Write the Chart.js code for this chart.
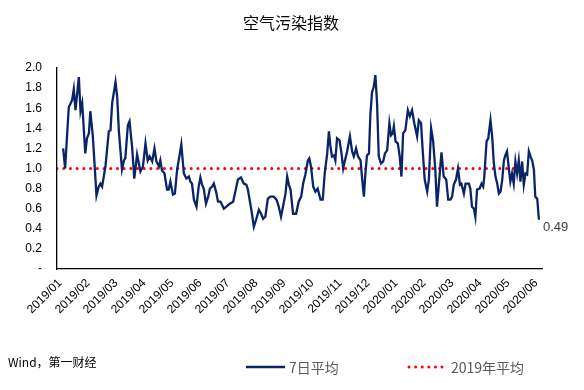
<!DOCTYPE html>
<html>
<head>
<meta charset="utf-8">
<script src="https://cdn.jsdelivr.net/npm/chart.js@4.4.1/dist/chart.umd.min.js"></script>
<style>
  html, body { margin: 0; padding: 0; background: #fff; }
</style>
</head>
<body>
<canvas id="chart" width="584" height="390"></canvas>
<script>
const title = '空气污染指数';
const source = 'Wind，第一财经';
const tickLabels = ['2019/01', '2019/02', '2019/03', '2019/04', '2019/05', '2019/06', '2019/07', '2019/08', '2019/09',
  '2019/10', '2019/11', '2019/12', '2020/01', '2020/02', '2020/03', '2020/04', '2020/05', '2020/06'];
const seriesNames = ['7日平均', '2019年平均'];

// x position in months since 2019/01
const months = [
  0.11, 0.18, 0.31, 0.43, 0.49, 0.55, 0.67, 0.73, 0.79, 0.90, 0.96, 1.03, 1.08, 1.17, 1.30, 1.38, 1.44, 1.50, 1.62, 1.74,
  1.80, 1.86, 1.98, 2.04, 2.10, 2.21, 2.28, 2.33, 2.42, 2.48, 2.57, 2.65, 2.75,
  2.87, 2.96, 3.05, 3.13, 3.20, 3.29, 3.37, 3.44, 3.53, 3.58, 3.64, 3.73, 3.82, 3.88, 3.94, 4.03, 4.10, 4.18, 4.26, 4.33,
  4.42, 4.51, 4.60, 4.65, 4.71, 4.78, 4.87, 4.95, 5.01, 5.07, 5.13, 5.21, 5.29, 5.35, 5.43, 5.49, 5.57, 5.64,
  5.73, 5.85, 5.94, 6.06, 6.18, 6.26, 6.35, 6.46, 6.56, 6.65, 6.70, 6.75, 6.83, 6.92, 7.00, 7.10, 7.18, 7.25, 7.33, 7.42,
  7.51, 7.63, 7.73, 7.81, 7.89, 7.96, 8.05, 8.11, 8.17, 8.23, 8.32, 8.43,
  8.52, 8.61, 8.68, 8.76, 8.85, 8.90, 8.96, 9.04, 9.12, 9.20, 9.30, 9.38, 9.45, 9.54, 9.60, 9.65, 9.71, 9.78, 9.83, 9.89,
  9.98, 10.05, 10.11, 10.19, 10.25, 10.35, 10.43, 10.49, 10.57, 10.64, 10.73, 10.79, 10.85, 10.90, 10.96, 11.03, 11.08,
  11.14, 11.20, 11.26, 11.32, 11.38,
  11.46, 11.54, 11.60, 11.68, 11.76, 11.82, 11.88, 11.92, 11.98, 12.06, 12.13, 12.19, 12.25, 12.33, 12.42, 12.49, 12.57,
  12.65, 12.75, 12.81, 12.89, 12.95, 13.02, 13.11, 13.17, 13.25, 13.32, 13.40, 13.46, 13.55, 13.62, 13.70, 13.79, 13.86,
  13.94, 14.00, 14.06, 14.14, 14.21,
  14.28, 14.33, 14.42, 14.48, 14.60, 14.65, 14.71, 14.78, 14.83, 14.89, 14.98, 15.05, 15.11, 15.15, 15.23, 15.29, 15.37,
  15.43, 15.49, 15.55, 15.61, 15.67, 15.73, 15.79, 15.85, 15.90, 15.96, 16.03, 16.08, 16.14, 16.20, 16.26, 16.32, 16.38,
  16.44, 16.50, 16.56, 16.62, 16.68, 16.74, 16.80, 16.86, 16.92, 16.97, 17.04, 17.10
];
const values = [
  1.20, 1.00, 1.61, 1.68, 1.79, 1.58, 1.91, 1.57, 1.65, 1.15, 1.30, 1.35, 1.57, 1.32, 0.73, 0.82, 0.85, 0.82, 1.02, 1.37,
  1.38, 1.65, 1.86, 1.71, 1.37, 0.99, 1.08, 1.10, 1.43, 1.47, 1.22, 0.90, 1.14,
  0.97, 1.02, 1.25, 1.08, 1.12, 1.07, 1.20, 1.07, 1.02, 1.08, 0.98, 0.95, 0.79, 0.79, 0.87, 0.74, 0.75, 0.99, 1.12, 1.24,
  0.95, 0.90, 0.92, 0.87, 0.85, 0.69, 0.62, 0.82, 0.91, 0.84, 0.80, 0.65, 0.72, 0.80, 0.82, 0.85, 0.77, 0.67,
  0.67, 0.60, 0.62, 0.65, 0.67, 0.77, 0.89, 0.91, 0.85, 0.84, 0.80, 0.72, 0.59, 0.42, 0.49, 0.59, 0.55, 0.50, 0.52, 0.70,
  0.72, 0.72, 0.69, 0.62, 0.52, 0.62, 0.75, 0.92, 0.84, 0.79, 0.55, 0.55,
  0.67, 0.72, 0.85, 0.94, 1.08, 1.10, 1.02, 0.82, 0.77, 0.80, 0.69, 0.69, 0.95, 1.15, 1.37, 1.23, 1.12, 1.13, 1.08, 1.30,
  1.28, 1.15, 1.00, 1.10, 1.17, 1.32, 1.17, 1.12, 1.20, 1.12, 1.08, 0.89, 0.72, 0.94, 1.13, 1.15, 1.53,
  1.76, 1.81, 1.93, 1.65, 1.12,
  1.05, 1.07, 1.15, 1.18, 1.45, 1.33, 1.35, 1.42, 1.27, 1.25, 1.12, 0.92, 1.35, 1.38, 1.58, 1.52, 1.58,
  1.45, 1.32, 1.48, 1.45, 1.18, 0.89, 0.77, 0.89, 1.40, 1.28, 0.99, 0.62, 0.92, 1.16, 0.92, 0.89, 0.69,
  0.69, 0.72, 0.84, 0.89, 1.00,
  0.84, 0.85, 0.75, 0.85, 0.85, 0.80, 0.62, 0.60, 0.52, 0.79, 0.80, 0.85, 0.82, 0.92, 1.27, 1.30, 1.48,
  1.32, 1.05, 0.92, 0.85, 0.75, 0.77, 0.89, 1.08, 1.13, 1.17, 0.99, 0.87, 0.95, 0.85, 1.07, 0.95, 1.08,
  0.87, 1.07, 0.84, 0.95, 0.94, 1.17, 1.12, 1.08, 0.99, 0.72, 0.70, 0.49
];
const avg2019 = 1.0;
const avgRange = [-0.11, 16.57];

const navy = '#0a2468';
const red = '#ff0000';

// title, source, legend and end label
const extras = {
  id: 'extras',
  afterDraw(chart) {
    const ctx = chart.ctx;
    const xs = chart.scales.x, ys = chart.scales.y;
    ctx.save();
    ctx.fillStyle = '#000';
    ctx.textAlign = 'center';
    ctx.textBaseline = 'middle';
    ctx.font = '16px "Noto Sans CJK SC"';
    ctx.fillText(title, 291, 23);

    const n = values.length - 1;
    ctx.textAlign = 'left';
    ctx.fillStyle = '#404040';
    ctx.font = '13px "Liberation Sans"';
    ctx.fillText(values[n].toFixed(2), xs.getPixelForValue(months[n]) + 4, ys.getPixelForValue(values[n]) + 8);

    ctx.fillStyle = '#000';
    ctx.font = '12px "Noto Sans CJK SC"';
    ctx.fillText(source, 8, 362);

    ctx.lineWidth = 2.5;
    ctx.strokeStyle = navy;
    ctx.beginPath(); ctx.moveTo(246, 367); ctx.lineTo(285, 367); ctx.stroke();
    ctx.strokeStyle = red;
    ctx.lineWidth = 3;
    ctx.lineCap = 'round';
    ctx.setLineDash([0.01, 6.6]);
    ctx.beginPath(); ctx.moveTo(409, 367); ctx.lineTo(445, 367); ctx.stroke();
    ctx.setLineDash([]);

    ctx.fillStyle = '#595959';
    ctx.font = '14px "Noto Sans CJK SC"';
    ctx.fillText(seriesNames[0], 289, 368);
    ctx.fillText(seriesNames[1], 451, 368);
    ctx.restore();
  }
};

new Chart(document.getElementById('chart'), {
  type: 'line',
  data: {
    datasets: [
      {
        label: seriesNames[0],
        data: months.map((m, i) => ({ x: m, y: values[i] })),
        borderColor: navy,
        borderWidth: 2.3,
        pointRadius: 0,
        tension: 0,
        order: 1
      },
      {
        label: seriesNames[1],
        data: avgRange.map(m => ({ x: m, y: avg2019 })),
        borderColor: red,
        borderWidth: 3,
        borderDash: [0.01, 6.7],
        borderCapStyle: 'round',
        pointRadius: 0,
        order: 2
      }
    ]
  },
  options: {
    responsive: false,
    animation: false,
    layout: { padding: { top: 68, right: 42, left: 0, bottom: 0 } },
    plugins: { legend: { display: false }, tooltip: { enabled: false } },
    scales: {
      x: {
        type: 'linear',
        min: -0.11,
        max: 17.21,
        afterBuildTicks: s => { s.ticks = tickLabels.map((t, i) => ({ value: i })); },
        afterFit: s => { s.height = 121; },
        grid: { display: false, drawTicks: false },
        border: { display: true, color: '#000', width: 1.3 },
        ticks: {
          autoSkip: false,
          minRotation: 45,
          maxRotation: 45,
          padding: 7,
          color: '#000',
          font: { family: 'Liberation Sans', size: 12 },
          callback: v => tickLabels[v]
        }
      },
      y: {
        min: 0,
        max: 2,
        afterFit: s => { s.width = 57; },
        grid: { display: false, drawTicks: false },
        border: { display: true, color: '#000', width: 1.3 },
        ticks: {
          stepSize: 0.2,
          padding: 15,
          color: '#000',
          font: { family: 'Liberation Sans', size: 12 },
          callback: v => (v === 0 ? '-' : v.toFixed(1))
        }
      }
    }
  },
  plugins: [extras]
});
</script>
</body>
</html>
